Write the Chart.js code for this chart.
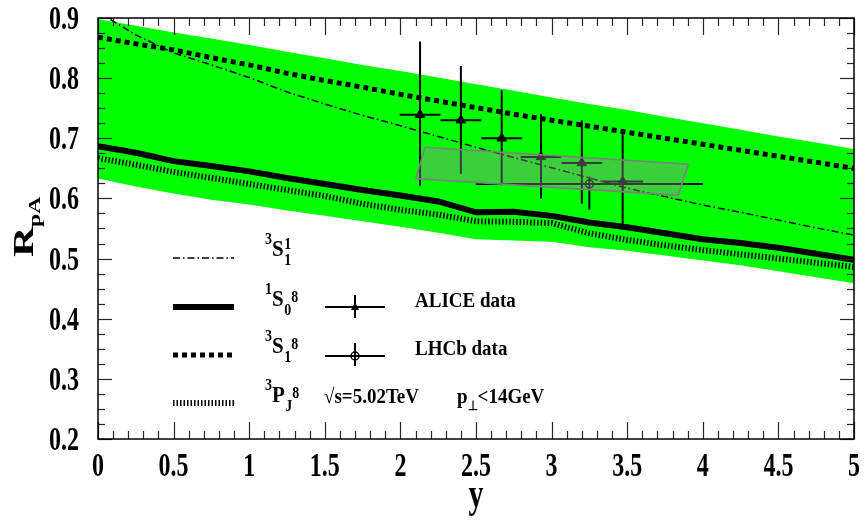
<!DOCTYPE html>
<html>
<head>
<meta charset="utf-8">
<script src="https://cdn.jsdelivr.net/npm/chart.js"></script>
<style>
  body { margin: 0; background: #fff; }
  canvas { display: block; }
</style>
</head>
<body>
<canvas id="rpa" width="866" height="525"></canvas>
<script>
// rapidity grid of the theory curves
var rap = [0, 0.25, 0.5, 0.75, 1, 1.25, 1.5, 1.75, 2, 2.25, 2.5, 2.75, 3, 3.25, 3.5, 3.75, 4, 4.25, 4.5, 4.75, 5];

// nPDF uncertainty band
var bandHi = [0.898, 0.887, 0.876, 0.866, 0.855, 0.844, 0.833, 0.822, 0.812, 0.801, 0.790, 0.779, 0.768, 0.757, 0.747, 0.736, 0.725, 0.714, 0.703, 0.693, 0.682];
var bandLo = [0.633, 0.620, 0.608, 0.598, 0.590, 0.580, 0.571, 0.562, 0.553, 0.543, 0.532, 0.530, 0.528, 0.519, 0.513, 0.505, 0.497, 0.489, 0.479, 0.469, 0.459];

// channels
var s1Singlet = [0.910, 0.872, 0.842, 0.822, 0.801, 0.777, 0.757, 0.738, 0.721, 0.703, 0.685, 0.668, 0.651, 0.634, 0.617, 0.603, 0.589, 0.577, 0.564, 0.551, 0.539];
var s0Octet = [0.687, 0.676, 0.662, 0.654, 0.645, 0.634, 0.624, 0.614, 0.605, 0.595, 0.577, 0.578, 0.571, 0.560, 0.552, 0.542, 0.532, 0.526, 0.518, 0.508, 0.498];
var s1Octet = [0.868, 0.857, 0.847, 0.834, 0.822, 0.808, 0.796, 0.785, 0.773, 0.762, 0.751, 0.740, 0.730, 0.720, 0.710, 0.700, 0.690, 0.680, 0.670, 0.660, 0.650];
var pjOctet = [0.667, 0.656, 0.644, 0.634, 0.624, 0.614, 0.604, 0.591, 0.581, 0.573, 0.562, 0.561, 0.559, 0.542, 0.531, 0.522, 0.514, 0.507, 0.500, 0.493, 0.486];

// ALICE
var aliceY = [2.13, 2.40, 2.67, 2.93, 3.20, 3.47];
var aliceR = [0.739, 0.730, 0.700, 0.669, 0.659, 0.628];
var aliceHalfBin = [0.135, 0.135, 0.135, 0.135, 0.135, 0.135];
var aliceUp = [0.122, 0.090, 0.080, 0.071, 0.071, 0.081];
var aliceDown = [0.118, 0.089, 0.078, 0.069, 0.068, 0.075];

// LHCb
var lhcbY = [3.25];
var lhcbR = [0.624];
var lhcbYlo = [2.5];
var lhcbYhi = [4.0];
var lhcbUp = [0.012];
var lhcbDown = [0.043];

// LHCb systematic box
var boxY = [2.101, 2.163, 3.904, 3.838, 2.101];
var boxR = [0.633, 0.685, 0.657, 0.605, 0.633];

var xTicks = [0, 0.5, 1, 1.5, 2, 2.5, 3, 3.5, 4, 4.5, 5];
var xTickLabels = ["0", "0.5", "1", "1.5", "2", "2.5", "3", "3.5", "4", "4.5", "5"];
var yTicks = [0.2, 0.3, 0.4, 0.5, 0.6, 0.7, 0.8, 0.9];
var yTickLabels = ["0.2", "0.3", "0.4", "0.5", "0.6", "0.7", "0.8", "0.9"];

var SERIF = '"Liberation Serif", "Times New Roman", serif';

function pts(xs, ys) {
    var out = [];
    for (var i = 0; i < xs.length; i++) out.push({ x: xs[i], y: ys[i] });
    return out;
}

// horizontal + vertical bars, separated by null gaps
function errorBars(xs, ys, xlo, xhi, up, down) {
    var out = [];
    for (var i = 0; i < xs.length; i++) {
        out.push({ x: xlo[i], y: ys[i] }, { x: xhi[i], y: ys[i] }, { x: xs[i], y: null });
        out.push({ x: xs[i], y: ys[i] - down[i] }, { x: xs[i], y: ys[i] + up[i] }, { x: xs[i], y: null });
    }
    return out;
}

var aliceLo = [], aliceHi = [];
for (var i = 0; i < aliceY.length; i++) {
    aliceLo.push(aliceY[i] - aliceHalfBin[i]);
    aliceHi.push(aliceY[i] + aliceHalfBin[i]);
}

function curve(data, width, dash, order) {
    return {
        data: data, showLine: true, borderColor: '#000', borderWidth: width,
        borderDash: dash, borderCapStyle: 'butt', pointRadius: 0, tension: 0,
        fill: false, order: order
    };
}

// stretched text, like the axis labels of the original plot
function tallText(ctx, text, x, y, size, align, rotate) {
    ctx.save();
    ctx.translate(x, y);
    ctx.scale(1, 1.4);
    if (rotate) ctx.rotate(-Math.PI / 2);
    ctx.font = 'bold ' + size + 'px ' + SERIF;
    ctx.textAlign = align;
    ctx.textBaseline = 'alphabetic';
    ctx.fillText(text, 0, 0);
    ctx.restore();
}

function txt(ctx, text, x, y, size) {
    ctx.save();
    ctx.translate(x, y);
    ctx.scale(1, 1.12);
    ctx.font = 'bold ' + size + 'px ' + SERIF;
    ctx.textAlign = 'left';
    ctx.textBaseline = 'alphabetic';
    ctx.fillText(text, 0, 0);
    var w = ctx.measureText(text).width;
    ctx.restore();
    return w;
}

// state label like 3S1(8): pre-superscript, letter, subscript, superscript
function stateLabel(ctx, x, base, pre, letter, sub, sup, stacked) {
    var w = txt(ctx, pre, x, base - 12, 14);
    var lx = x + w;
    var lw = txt(ctx, letter, lx, base, 21);
    var sx = lx + lw + 0.5;
    var sw = txt(ctx, sub, sx, base + 9, 14);
    if (stacked) txt(ctx, sup, sx, base - 7, 14);
    else txt(ctx, sup, sx + sw, base - 4, 14);
}

function seg(ctx, x1, y1, x2, y2) {
    ctx.beginPath();
    ctx.moveTo(x1, y1);
    ctx.lineTo(x2, y2);
    ctx.stroke();
}

var framePlugin = {
    id: 'framePlugin',
    afterDraw: function (chart) {
        var ctx = chart.ctx, a = chart.chartArea;
        var xs = chart.scales.x, ys = chart.scales.y;
        ctx.save();

        // inward ticks on all four sides
        ctx.strokeStyle = '#262626';
        ctx.lineWidth = 1.2;
        for (var i = 0; i <= 50; i++) {
            var px = Math.round(xs.getPixelForValue(i / 10)) + 0.5;
            var len = i % 5 === 0 ? 17 : 8;
            seg(ctx, px, a.bottom, px, a.bottom - len);
            seg(ctx, px, a.top, px, a.top + len);
        }
        for (var j = 0; j <= 28; j++) {
            var py = Math.round(ys.getPixelForValue(0.2 + j * 0.025)) + 0.5;
            var ylen = j % 4 === 0 ? 14 : 7;
            seg(ctx, a.left, py, a.left + ylen, py);
            seg(ctx, a.right, py, a.right - ylen, py);
        }
        ctx.strokeStyle = '#000';
        ctx.lineWidth = 1.5;
        ctx.strokeRect(a.left, a.top, a.right - a.left, a.bottom - a.top);

        // tick labels
        ctx.fillStyle = '#000';
        for (var k = 0; k < xTicks.length; k++) {
            tallText(ctx, xTickLabels[k], xs.getPixelForValue(xTicks[k]), a.bottom + 37, 24, 'center');
        }
        for (var m = 0; m < yTicks.length; m++) {
            tallText(ctx, yTickLabels[m], a.left - 19, ys.getPixelForValue(yTicks[m]) + 11, 24, 'right');
        }

        // axis titles
        tallText(ctx, 'y', (a.left + a.right) / 2, 507, 30, 'center');
        tallText(ctx, 'R', 33, 257, 30, 'left', true);
        tallText(ctx, 'pA', 40, 227, 17, 'left', true);

        // legend, left column
        var lx1 = 173, lx2 = 234;
        ctx.strokeStyle = '#000';
        ctx.lineCap = 'butt';
        ctx.lineWidth = 1.5; ctx.setLineDash([7, 3, 1.5, 3]);
        seg(ctx, lx1, 258, lx2, 258);
        ctx.lineWidth = 6; ctx.setLineDash([]);
        seg(ctx, lx1, 307, lx2, 307);
        ctx.lineWidth = 5; ctx.setLineDash([5, 4]);
        seg(ctx, lx1, 355, lx2, 355);
        ctx.lineWidth = 6; ctx.setLineDash([1.5, 2]);
        seg(ctx, lx1, 403, lx2, 403);
        ctx.setLineDash([]);

        stateLabel(ctx, 265, 256, '3', 'S', '1', '1', true);
        stateLabel(ctx, 265, 306, '1', 'S', '0', '8', false);
        stateLabel(ctx, 265, 353, '3', 'S', '1', '8', false);
        stateLabel(ctx, 265, 402, '3', 'P', 'J', '8', false);

        // legend, data markers
        ctx.lineWidth = 2;
        seg(ctx, 325, 307, 385, 307);
        seg(ctx, 355, 295, 355, 318);
        ctx.beginPath();
        ctx.moveTo(355, 302); ctx.lineTo(359, 310); ctx.lineTo(351, 310); ctx.closePath();
        ctx.fill();
        seg(ctx, 325, 356, 385, 356);
        seg(ctx, 355, 343, 355, 366);
        ctx.lineWidth = 1.5;
        ctx.beginPath(); ctx.arc(355, 356, 4, 0, Math.PI * 2); ctx.stroke();

        txt(ctx, 'ALICE data', 415, 307, 19);
        txt(ctx, 'LHCb data', 415, 355, 19);
        txt(ctx, '\u221As=5.02TeV', 324, 403, 19);
        var pw = txt(ctx, 'p', 457, 403, 19);
        var tw = txt(ctx, '\u22A5', 457 + pw, 410, 12);
        txt(ctx, '<14GeV', 457 + pw + tw, 403, 19);

        ctx.restore();
    }
};

var datasets = [
    // band (index 0 fills down to index 1)
    { data: pts(rap, bandHi), showLine: true, borderWidth: 0, pointRadius: 0, backgroundColor: '#00ff00', fill: 1, order: 10 },
    { data: pts(rap, bandLo), showLine: true, borderWidth: 0, pointRadius: 0, fill: false, order: 10 },
    curve(pts(rap, s1Singlet), 1.5, [7, 3, 1.5, 3], 6),
    curve(pts(rap, s0Octet), 6, [], 5),
    curve(pts(rap, s1Octet), 5, [5, 4], 4),
    curve(pts(rap, pjOctet), 6, [1.5, 2], 3),
    // error bars
    { data: errorBars(aliceY, aliceR, aliceLo, aliceHi, aliceUp, aliceDown), showLine: true, spanGaps: false, borderColor: '#000', borderWidth: 2, pointRadius: 0, fill: false, order: 2 },
    { data: errorBars(lhcbY, lhcbR, lhcbYlo, lhcbYhi, lhcbUp, lhcbDown), showLine: true, spanGaps: false, borderColor: '#000', borderWidth: 2, pointRadius: 0, fill: false, order: 2 },
    // markers
    { data: pts(aliceY, aliceR), pointStyle: 'triangle', pointRadius: 5.5, backgroundColor: '#000', borderColor: '#000', borderWidth: 1, order: 1 },
    { data: pts(lhcbY, lhcbR), pointStyle: 'circle', pointRadius: 4, backgroundColor: 'rgba(0,0,0,0)', borderColor: '#000', borderWidth: 1.5, order: 1 },
    // systematic box on top
    { data: pts(boxY, boxR), showLine: true, borderColor: '#7f7f7f', borderWidth: 1.6, backgroundColor: 'rgba(140,140,140,0.42)', pointRadius: 0, fill: 'shape', tension: 0, order: 0 }
];

var chart = new Chart(document.getElementById('rpa'), {
    type: 'scatter',
    data: { datasets: datasets },
    options: {
        responsive: false,
        animation: false,
        events: [],
        layout: { padding: { left: 98, top: 18, right: 12, bottom: 86 } },
        plugins: { legend: { display: false }, tooltip: { enabled: false } },
        scales: {
            x: { type: 'linear', min: 0, max: 5, display: false },
            y: { type: 'linear', min: 0.2, max: 0.9, display: false }
        }
    },
    plugins: [framePlugin]
});
</script>
</body>
</html>
